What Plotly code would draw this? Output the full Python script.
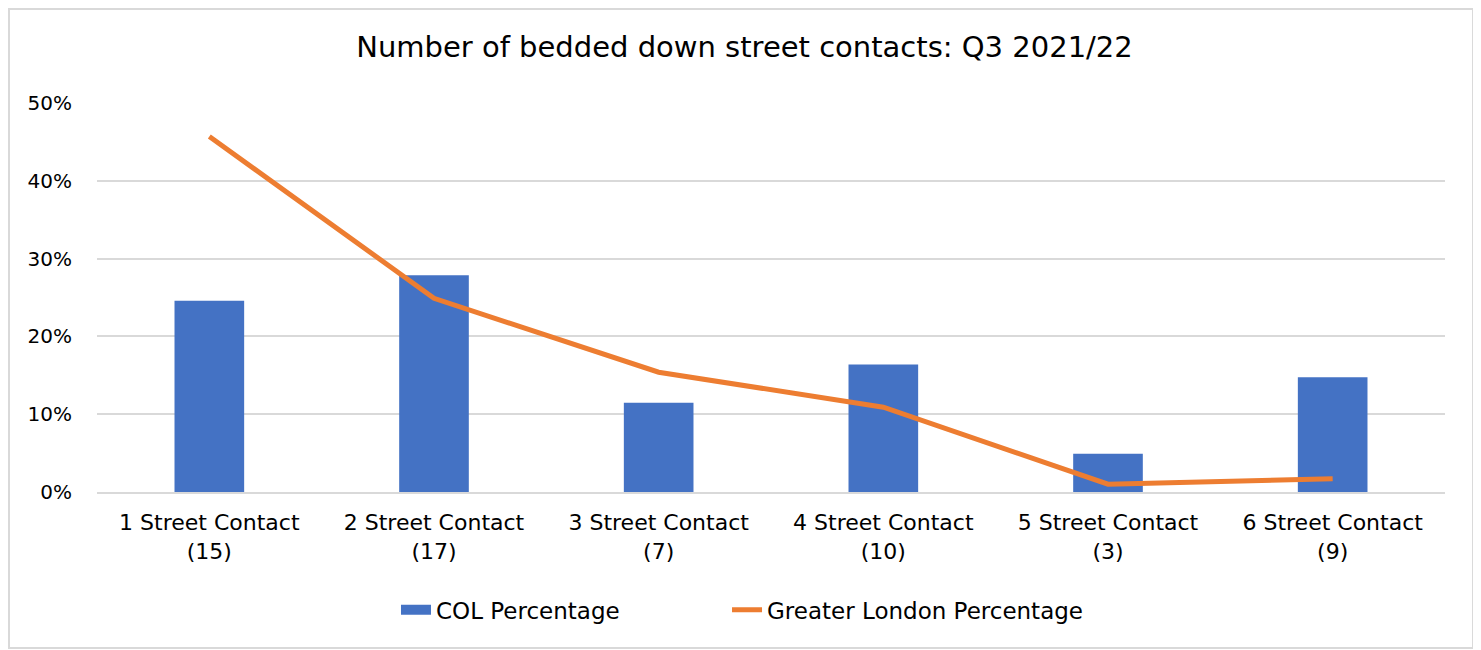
import plotly.graph_objects as go

categories = ["1 Street Contact<br>(15)", "2 Street Contact<br>(17)", "3 Street Contact<br>(7)",
              "4 Street Contact<br>(10)", "5 Street Contact<br>(3)", "6 Street Contact<br>(9)"]
col_pct = [0.2459, 0.2787, 0.1148, 0.1639, 0.0492, 0.1475]
london_pct = [0.457, 0.249, 0.154, 0.109, 0.010, 0.017]
y_ticks = [0, 0.1, 0.2, 0.3, 0.4, 0.5]

FONT = "DejaVu Sans, sans-serif"
BLUE = "#4472C4"
ORANGE = "#ED7D31"
GAP = "\u00a0" * 14

fig = go.Figure()
fig.add_trace(go.Bar(x=categories, y=col_pct, name="COL Percentage", showlegend=False,
                     marker=dict(color=BLUE, line=dict(width=0)), width=0.31))
# legend entry for the bars, drawn as a wide swatch like the original
fig.add_trace(go.Scatter(x=[categories[0]], y=[None], name="COL Percentage" + GAP,
                         mode="lines", line=dict(color=BLUE, width=12), hoverinfo="skip"))
fig.add_trace(go.Scatter(x=categories, y=london_pct, name="Greater London Percentage",
                         mode="lines", line=dict(color=ORANGE, width=5)))

fig.update_layout(
    width=1473, height=642,
    margin=dict(l=89, r=36, t=95, b=158),
    paper_bgcolor="white", plot_bgcolor="white",
    font=dict(family=FONT, size=20, color="#000000"),
    title=dict(text="Number of bedded down street contacts: Q3 2021/22",
               x=0.5, xanchor="center", y=0.9393, yanchor="middle",
               font=dict(size=29, family=FONT, color="#000000")),
    showlegend=True,
    legend=dict(orientation="h", x=0.2218, xanchor="left", y=-0.303, yanchor="middle",
                font=dict(size=23, family=FONT), traceorder="normal"),
    shapes=[dict(type="rect", xref="paper", yref="paper",
                 x0=-0.0653, x1=1.0208, y0=-0.401, y1=1.2416,
                 line=dict(color="#D9D9D9", width=2), fillcolor="rgba(0,0,0,0)", layer="below")],
)
fig.update_yaxes(range=[0, 0.5], tickvals=y_ticks, tickformat=".0%",
                 showgrid=True, gridcolor="#D9D9D9", gridwidth=2,
                 zeroline=False, showline=False, ticks="", ticklabelstandoff=24,
                 tickfont=dict(size=20))
fig.update_xaxes(showgrid=False, showline=True, linecolor="#D9D9D9", linewidth=2,
                 ticks="", tickfont=dict(size=22), tickangle=0, ticklabelstandoff=10)

fig.write_html("out.html")
